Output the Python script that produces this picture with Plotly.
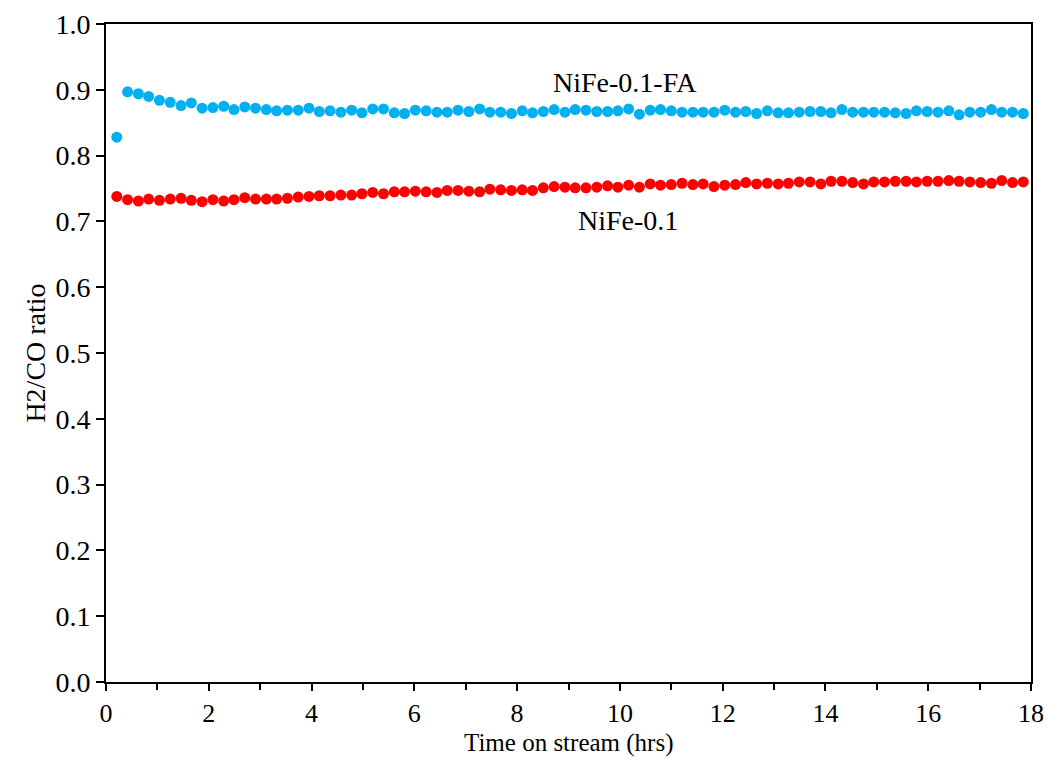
import plotly.graph_objects as go

# Time on stream (hrs) for each sample
time_hrs = [
    0.21, 0.42, 0.63, 0.83, 1.04, 1.25, 1.46, 1.66, 1.87, 2.08,
    2.29, 2.49, 2.70, 2.91, 3.12, 3.32, 3.53, 3.74, 3.95, 4.15,
    4.36, 4.57, 4.78, 4.98, 5.19, 5.40, 5.61, 5.81, 6.02, 6.23,
    6.44, 6.64, 6.85, 7.06, 7.27, 7.47, 7.68, 7.89, 8.10, 8.30,
    8.51, 8.72, 8.93, 9.13, 9.34, 9.55, 9.76, 9.96, 10.17, 10.38,
    10.59, 10.79, 11.00, 11.21, 11.42, 11.62, 11.83, 12.04, 12.25, 12.45,
    12.66, 12.87, 13.08, 13.28, 13.49, 13.70, 13.91, 14.11, 14.32, 14.53,
    14.74, 14.94, 15.15, 15.36, 15.57, 15.77, 15.98, 16.19, 16.40, 16.60,
    16.81, 17.02, 17.23, 17.43, 17.64, 17.85,
]

# H2/CO ratio, NiFe-0.1-FA
ratio_fa = [
    0.828, 0.897, 0.894, 0.890, 0.884, 0.881, 0.876, 0.880, 0.872, 0.873,
    0.875, 0.870, 0.874, 0.872, 0.870, 0.868, 0.869, 0.869, 0.872, 0.867,
    0.868, 0.866, 0.869, 0.865, 0.871, 0.871, 0.865, 0.864, 0.869, 0.868,
    0.866, 0.866, 0.869, 0.867, 0.871, 0.866, 0.866, 0.864, 0.868, 0.865,
    0.867, 0.870, 0.866, 0.870, 0.869, 0.867, 0.867, 0.868, 0.871, 0.863,
    0.869, 0.870, 0.868, 0.866, 0.866, 0.866, 0.866, 0.869, 0.866, 0.867,
    0.864, 0.868, 0.865, 0.865, 0.866, 0.867, 0.867, 0.865, 0.870, 0.866,
    0.866, 0.866, 0.866, 0.865, 0.864, 0.868, 0.867, 0.866, 0.868, 0.862,
    0.866, 0.866, 0.870, 0.866, 0.866, 0.864,
]

# H2/CO ratio, NiFe-0.1
ratio_base = [
    0.738, 0.733, 0.731, 0.734, 0.732, 0.734, 0.735, 0.732, 0.730, 0.733,
    0.731, 0.733, 0.736, 0.734, 0.734, 0.734, 0.735, 0.737, 0.738, 0.739,
    0.739, 0.740, 0.740, 0.742, 0.744, 0.742, 0.745, 0.745, 0.746, 0.745,
    0.744, 0.747, 0.747, 0.746, 0.745, 0.749, 0.748, 0.747, 0.748, 0.747,
    0.751, 0.753, 0.752, 0.751, 0.751, 0.752, 0.754, 0.752, 0.755, 0.752,
    0.757, 0.755, 0.756, 0.758, 0.756, 0.757, 0.753, 0.755, 0.756, 0.759,
    0.757, 0.758, 0.757, 0.758, 0.760, 0.760, 0.757, 0.761, 0.761, 0.759,
    0.757, 0.760, 0.760, 0.761, 0.761, 0.760, 0.761, 0.761, 0.762, 0.761,
    0.760, 0.759, 0.758, 0.762, 0.759, 0.760,
]

FONT = "Liberation Serif, Times New Roman, serif"
FSIZE = 28

fig = go.Figure()
fig.add_trace(go.Scatter(
    x=time_hrs, y=ratio_fa, mode="markers", name="NiFe-0.1-FA",
    marker=dict(color="#00B0F0", size=11, line=dict(width=0)),
))
fig.add_trace(go.Scatter(
    x=time_hrs, y=ratio_base, mode="markers", name="NiFe-0.1",
    marker=dict(color="#FF0000", size=11, line=dict(width=0)),
))

# Series labels
fig.add_annotation(x=10.1, y=0.911, text="NiFe-0.1-FA", showarrow=False,
                   font=dict(family=FONT, size=FSIZE, color="black"))
fig.add_annotation(x=10.15, y=0.702, text="NiFe-0.1", showarrow=False,
                   font=dict(family=FONT, size=FSIZE, color="black"))

# X-axis title, placed just under the tick labels
fig.add_annotation(xref="paper", yref="paper", x=0.5, y=0, yanchor="top",
                   yshift=-45, text="Time on stream (hrs)", showarrow=False,
                   font=dict(family=FONT, size=25, color="black"))

fig.update_layout(
    width=1048, height=762,
    margin=dict(l=106, r=17, t=24, b=80, autoexpand=False),
    plot_bgcolor="white", paper_bgcolor="white",
    showlegend=False,
    font=dict(family=FONT, size=FSIZE, color="black"),
)
fig.update_xaxes(
    range=[0, 18], dtick=2, tick0=0, automargin=False,
    showgrid=False, zeroline=False,
    showline=True, linecolor="black", linewidth=2, mirror=True,
    ticks="outside", ticklen=7, tickwidth=2, tickcolor="black",
    minor=dict(dtick=1, ticks="outside", ticklen=6, tickwidth=2, tickcolor="black"),
    tickfont=dict(family=FONT, size=26),
)
fig.update_yaxes(
    range=[0, 1.0], dtick=0.1, tick0=0, tickformat=".1f", automargin=False,
    showgrid=False, zeroline=False,
    showline=True, linecolor="black", linewidth=2, mirror=True,
    ticks="outside", ticklen=8, tickwidth=2, tickcolor="black",
    title=dict(text="H2/CO ratio", standoff=2, font=dict(family=FONT, size=FSIZE)),
    tickfont=dict(family=FONT, size=FSIZE),
)

fig.write_html("out.html")
